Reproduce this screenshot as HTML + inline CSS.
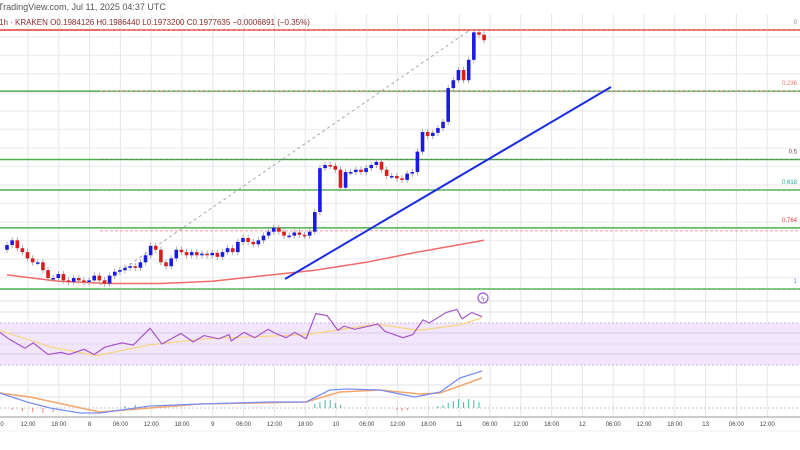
<!DOCTYPE html>
<html><head><meta charset="utf-8">
<style>
html,body{margin:0;padding:0;background:#fff;}
svg{display:block;font-family:"Liberation Sans",sans-serif;}
</style></head>
<body>
<svg id="chart" width="800" height="450" viewBox="0 0 800 450" xmlns="http://www.w3.org/2000/svg">
  <rect x="0" y="0" width="800" height="450" fill="#fff"/>
  <g id="grid"></g>
  <rect x="0" y="323" width="800" height="42" fill="#f2e6fc"/>
  <g id="fib"></g>
  <g id="rsi"></g>
  <g id="macd"></g>
  <g id="price"></g>
  <g id="xaxis"></g>
  <text x="-2" y="10" font-size="9" fill="#555">TradingView.com, Jul 11, 2025 04:37 UTC</text>
  <text x="-1" y="25" font-size="8" fill="#8b2c2c">1h · KRAKEN  O0.1984126  H0.1986440  L0.1973200  C0.1977635  −0.0006891 (−0.35%)</text>
  <g><circle cx="483" cy="298" r="5" fill="none" stroke="#a05ad8" stroke-width="1.2"/><text x="481" y="301" font-size="7" fill="#a05ad8">ϟ</text></g>
</svg>
<script>
const closes=[.1716,.1722,.1712,.1707,.1699,.1694,.1694,.1684,.1674,.1674,.1679,.1671,.1669,.1674,.1671,.1669,.1671,.1677,.1671,.1667,.1677,.1682,.1684,.1687,.1689,.1687,.1694,.1703,.1715,.1710,.1694,.1689,.1699,.1710,.1707,.1703,.1707,.1703,.1705,.1703,.1706,.1701,.1707,.1712,.1707,.1720,.1725,.1720,.1717,.1722,.1728,.1733,.1738,.1733,.1728,.1728,.1732,.1729,.1728,.1733,.1758,.1814,.1818,.1817,.1812,.1789,.1809,.1809,.1812,.1809,.1814,.1818,.1822,.1812,.1804,.1804,.1801,.1799,.1807,.1809,.1835,.1860,.1855,.1859,.1865,.1873,.1916,.1926,.1939,.1926,.1952,.1987,.1984,.1977];
const firstOpen=.1710;
const maIdx=[0,10,20,30,40,50,60,70,80,93];
const maVal=[.1678,.1670,.1667,.1667,.1670,.1677,.1684,.1694,.1707,.1722];
const fibLevels=[0,0.236,0.5,0.618,0.764,1];
const fibLabels=["0","0.236","0.5","0.618","0.764","1"];
const fibTop=.1990, fibBottom=.1660;
const rsiIdx=[-1.4,0.6,3.5,5.1,8,10.5,12.1,15,17,19.1,22.4,24.6,27.9,30.2,33.9,36.3,38.4,41.3,43.3,43.7,46.2,48.3,50.9,52.4,54.4,56.1,58.3,60.2,62.4,64.5,65.7,67.8,72.3,73.7,77.2,79.1,81.1,82.3,85.6,87.7,88.7,90.6,92.6];
const rsiVal=[61,54,46,51,40,42,40,45,40,47,51,49,65,50,60,52,58,55,59,53,61,56,64,60,56,61,55,79,77,63,67,64,69,62,56,59,73,70,80,83,74,80,76];
const rsiMaIdx=[-1.4,8.6,17.5,27.5,38.4,58.3,72.3,80.1,88.1,92.6];
const rsiMaVal=[63,47,39,49,55,59,69,63,68,75];
const macdIdx=[-1.4,3.9,8.4,14.2,18.1,27.9,37.6,51.3,58.3,62.9,66.3,72.7,79.5,84.4,88.3,92.6];
const macdVal=[1.5,0.6,0,-0.5,-0.5,0.2,0.4,0.6,0.6,1.8,1.9,1.8,1.1,1.6,3.0,3.7];
const sigIdx=[-1.4,4.5,16.2,18.1,27.9,37.6,58.3,64.9,72.7,80.5,84.4,92.6];
const sigVal=[1.5,1.1,-0.2,-0.4,0,0.4,0.6,1.6,1.8,1.4,1.5,3.0];
const histIdx=[1,3,5,7,9,23,25,27,60,61,62,63,64,65,76,77,78,84,85,86,87,88,89,90,91,92];
const histVal=[-0.2,-0.3,-0.4,-0.5,-0.4,0.2,0.3,0.2,0.4,0.6,0.8,0.8,0.5,0.3,-0.2,-0.3,-0.2,0.2,0.3,0.5,0.7,0.9,0.6,0.9,0.8,0.6];
const xTickPos=[0.6,1,1.4,1.8,2.2,2.6,3,3.4,3.8,4.2,4.6,5,5.4,5.8,6.2,6.6,7,7.4,7.8,8.2,8.6,9,9.4,9.8,10.2];
const xTickLabels=["12:00","18:00","8","06:00","12:00","18:00","9","06:00","12:00","18:00","10","06:00","12:00","18:00","11","06:00","12:00","18:00","12","06:00","12:00","18:00","13","06:00","12:00"];

const NS="http://www.w3.org/2000/svg";
function mk(tag,attrs,parent){const e=document.createElementNS(NS,tag);for(const k in attrs)e.setAttribute(k,attrs[k]);parent.appendChild(e);return e;}
const xOf=i=>7+i*5.13;
const yP=p=>30+(fibTop-p)/(fibTop-fibBottom)*259;
const yR=v=>323+(70-v)*42/40;
const yM=v=>408-v*10;
// x tick: unit = day index scaled; label x = -3.3 + pos*30.8*... map
const xT=t=>-3+t*30.8/0.4*1/1;

const grid=document.getElementById('grid');
for(let y=37;y<290;y+=18.5){const l=mk('line',{x1:0,x2:800,y1:y,y2:y,stroke:'#f0f0f3','stroke-width':1.5},grid);

}
[301,312,385,397].forEach(y=>{const l=mk('line',{x1:0,x2:800,y1:y,y2:y,stroke:'#ececef','stroke-width':1.5},grid);

});
xTickPos.forEach(t=>{const x=(t-0.6)/0.4*30.8+28;const l=mk('line',{x1:x,x2:x,y1:14,y2:417,stroke:'#e6e6ea','stroke-width':1},grid);

});

const fib=document.getElementById('fib');
const fibColors=['#e53935','#4caf50','#4caf50','#4caf50','#4caf50','#4caf50'];
const dashColors=['#e57373','#ef9a9a','#558b5a','#66bb6a','#ef9a9a','#66bb6a'];
const labelColors=['#888','#e57373','#6d4c41','#26a69a','#e53935','#5c8ee6'];
fibLevels.forEach((lv,k)=>{const y=yP(fibTop-lv*(fibTop-fibBottom));
const l=mk('line',{x1:0,x2:800,y1:y,y2:y,stroke:fibColors[k],'stroke-width':1.5},fib);


const d=mk('line',{x1:100,x2:800,y1:y+(k==4?3:0),y2:y+(k==4?3:0),stroke:dashColors[k],'stroke-width':1,'stroke-dasharray':'3,2'},fib);


const t=mk('text',{x:797,y:y-6,'font-size':6,'text-anchor':'end',fill:labelColors[k]},fib);t.textContent=fibLabels[k];

});
[333,344,354].forEach((y,k)=>{const l=mk('line',{x1:0,x2:800,y1:y,y2:y,stroke:'#d9c8ea','stroke-width':1,'stroke-dasharray':k==1?'2,2':''},fib);

});
[323,365].forEach(y=>{const l=mk('line',{x1:0,x2:800,y1:y,y2:y,stroke:'#c9b6dd','stroke-width':1,'stroke-dasharray':'2,2'},fib);

});

const price=document.getElementById('price');
// dashed fib trend
const ft=mk('line',{x1:100,y1:285,x2:470,y2:30,stroke:'#aaa','stroke-width':1,'stroke-dasharray':'3,3'},price);


// MA
let d='';maIdx.forEach((i,k)=>{d+=(k?'L':'M')+xOf(i).toFixed(1)+','+yP(maVal[k]).toFixed(1);});
const ma=mk('path',{d:d,fill:'none',stroke:'#f06a6a','stroke-width':1.5},price);


// candles
closes.forEach((c,i)=>{const o=i?closes[i-1]:firstOpen;const up=c>=o;const col=up?'#1a1ae6':'#e01b1b';
const x=xOf(i);const hi=Math.max(o,c)+0.0004,lo=Math.min(o,c)-0.0004;
const w=mk('line',{x1:x,x2:x,y1:yP(hi),y2:yP(lo),stroke:'#999','stroke-width':0.8},price);


const top=yP(Math.max(o,c)),bot=yP(Math.min(o,c));
const r=mk('rect',{x:x-1.8,y:top,width:3.6,height:Math.max(1.5,bot-top),fill:col},price);

});
const tl=mk('line',{x1:285,y1:279,x2:611,y2:87,stroke:'#1a2de0','stroke-width':2},price);



const rsi=document.getElementById('rsi');
d='';rsiMaIdx.forEach((i,k)=>{d+=(k?'L':'M')+xOf(i).toFixed(1)+','+yR(rsiMaVal[k]).toFixed(1);});
const rm=mk('path',{d:d,fill:'none',stroke:'#f7d57e','stroke-width':1.2},rsi);


d='';rsiIdx.forEach((i,k)=>{d+=(k?'L':'M')+xOf(i).toFixed(1)+','+yR(rsiVal[k]).toFixed(1);});
const rl=mk('path',{d:d,fill:'none',stroke:'#a855c8','stroke-width':1.2},rsi);



const macd=document.getElementById('macd');
const z=mk('line',{x1:0,x2:800,y1:408,y2:408,stroke:'#bbb','stroke-width':0.8,'stroke-dasharray':'2,2'},macd);


histIdx.forEach((i,k)=>{const v=histVal[k];const y0=yM(0),y1=yM(v);
const b=mk('rect',{x:xOf(i)-0.5,y:Math.min(y0,y1),width:1,height:Math.abs(y1-y0),fill:v>=0?'#4db6a0':'#f08080'},macd);

});
d='';sigIdx.forEach((i,k)=>{d+=(k?'L':'M')+xOf(i).toFixed(1)+','+yM(sigVal[k]).toFixed(1);});
const sg=mk('path',{d:d,fill:'none',stroke:'#f5a66a','stroke-width':1.5},macd);


d='';macdIdx.forEach((i,k)=>{d+=(k?'L':'M')+xOf(i).toFixed(1)+','+yM(macdVal[k]).toFixed(1);});
const ml=mk('path',{d:d,fill:'none',stroke:'#7b8ff5','stroke-width':1.3},macd);



const xa=document.getElementById('xaxis');
const ax=mk('line',{x1:0,x2:800,y1:417,y2:417,stroke:'#bbb','stroke-width':1.5},xa);


mk('line',{x1:0,x2:800,y1:431,y2:431,stroke:'#f0f0f0','stroke-width':1},xa);
const t0=mk('text',{x:2,y:426,'font-size':6,'text-anchor':'middle',fill:'#444'},xa);t0.textContent='0';


xTickPos.forEach((t,k)=>{const x=(t-0.6)/0.4*30.8+28;
const e=mk('text',{x:x,y:426,'font-size':6,'text-anchor':'middle',fill:'#444'},xa);e.textContent=xTickLabels[k];

});
</script>
</body></html>
